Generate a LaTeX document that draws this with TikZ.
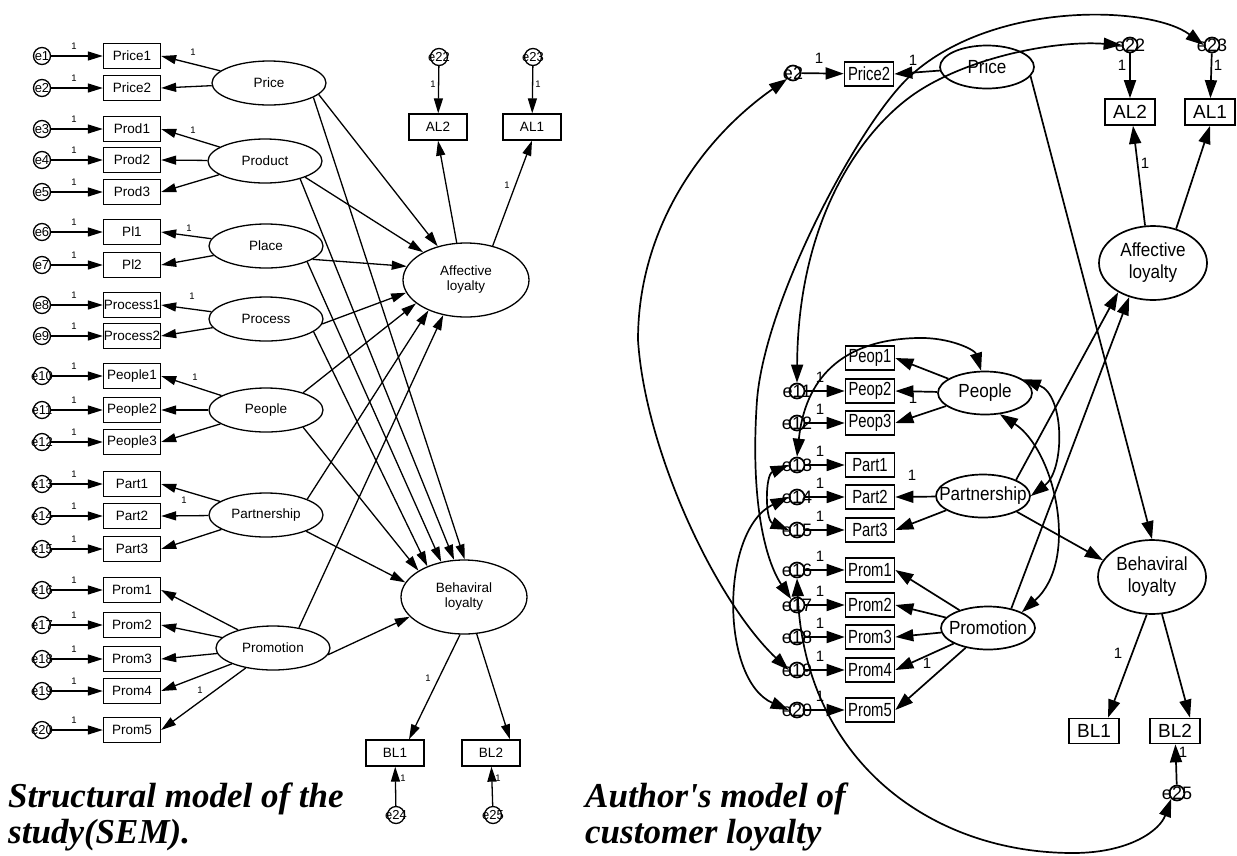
\documentclass[tikz,border=0pt]{standalone}
\usepackage{fontspec}
\setmainfont{Liberation Sans}
\newfontfamily\capfont{Liberation Serif}
\newfontfamily\condA[FakeStretch=0.78]{Liberation Sans}
\newfontfamily\condB[FakeStretch=0.9]{Liberation Sans}
\usetikzlibrary{shapes.geometric,arrows.meta}
\tikzset{
  % left diagram
  lbox/.style={draw,line width=1.3pt,rectangle,minimum width=57pt,minimum height=25pt,inner sep=0pt,font=\fontsize{13.5}{13.5}\selectfont},
  llat/.style={draw,line width=1.3pt,ellipse,minimum width=114pt,minimum height=44pt,inner sep=0pt,font=\fontsize{13.5}{15}\selectfont},
  lfac/.style={llat,minimum width=126pt,minimum height=74pt},
  lerr/.style={draw,line width=1.3pt,circle,minimum size=17pt,inner sep=0pt,font=\fontsize{13}{13}\selectfont},
  lone/.style={inner sep=0pt,font=\fontsize{9.5}{10}\selectfont},
  larr/.style={line width=1.3pt,-{Triangle[length=15pt,width=9pt]}},
  % right diagram
  rbox/.style={draw,line width=1.7pt,rectangle,minimum width=49pt,minimum height=24pt,inner sep=0pt,font=\condA\fontsize{19}{19}\selectfont},
  rbbox/.style={rbox,minimum width=50pt,minimum height=26pt,font=\fontsize{19}{19}\selectfont},
  rlat/.style={draw,line width=1.7pt,ellipse,minimum width=94pt,minimum height=43pt,inner sep=0pt,font=\condB\fontsize{19}{19}\selectfont},
  rfac/.style={rlat,minimum width=108pt,minimum height=74pt,font=\condB\fontsize{19}{22}\selectfont},
  rerr/.style={draw,line width=1.7pt,circle,minimum size=15pt,inner sep=0pt,font=\fontsize{18}{18}\selectfont},
  rone/.style={inner sep=0pt,font=\fontsize{15}{15}\selectfont},
  rarr/.style={line width=1.7pt,-{Triangle[length=18pt,width=12pt]}},
  rcov/.style={line width=1.7pt,{Triangle[length=18pt,width=12pt]}-{Triangle[length=18pt,width=12pt]}},
  capt/.style={inner sep=0pt,anchor=base west,font=\capfont\bfseries\itshape\fontsize{35}{35}\selectfont},
}
\begin{document}
\begin{tikzpicture}[x=1pt,y=-1pt]
\fill[white] (0,0) rectangle (1237,855);
\useasboundingbox (0,0) rectangle (1237,855);

% ================= structural model (left) =================
\foreach \t/\y [count=\i] in {Price1/56,Price2/88,Prod1/129,Prod2/160,Prod3/192,Pl1/232,Pl2/265,Process1/305,Process2/336,People1/376,People2/410,People3/442,Part1/484,Part2/516,Part3/549,Prom1/590,Prom2/625,Prom3/659,Prom4/691,Prom5/730}{
  \node[lbox] (L\t) at (132,\y) {\t};
  \node[lerr] (Le\i) at (42,\y) {\makebox[0pt]{e\i}};
  \node[lone] (Lk\i) at (74,\y-10) {1};
  \draw[larr] (Le\i) -- (L\t);
}

\node[llat] (LPrice) at (269,83) {\makebox[0pt]{Price}};
\node[llat] (LProduct) at (265,161) {\makebox[0pt]{Product}};
\node[llat] (LPlace) at (266,246) {\makebox[0pt]{Place}};
\node[llat] (LProcess) at (266,319) {\makebox[0pt]{Process}};
\node[llat] (LPeople) at (266,410) {\makebox[0pt]{People}};
\node[llat] (LPartnership) at (266,515) {\makebox[0pt]{Partnership}};
\node[llat] (LPromotion) at (273,648) {\makebox[0pt]{Promotion}};

\foreach \s/\t in {Price/Price1,Price/Price2,Product/Prod1,Product/Prod2,Product/Prod3,Place/Pl1,Place/Pl2,Process/Process1,Process/Process2,People/People1,People/People2,People/People3,Partnership/Part1,Partnership/Part2,Partnership/Part3,Promotion/Prom1,Promotion/Prom2,Promotion/Prom3,Promotion/Prom4,Promotion/Prom5}
  \draw[larr] (L\s) -- (L\t.east);

\node[lone] (LkPrice) at (193,52) {1};
\node[lone] (LkProduct) at (193,130) {1};
\node[lone] (LkPlace) at (189,228) {1};
\node[lone] (LkProcess) at (192,296) {1};
\node[lone] (LkPeople) at (195,377) {1};
\node[lone] (LkPartnership) at (184,500) {1};
\node[lone] (LkPromotion) at (200,690) {1};

\node[lfac] (LAL) at (466,280) {\makebox[0pt]{\begin{tabular}{@{}c@{}}Affective\\loyalty\end{tabular}}};
\node[lfac] (LBL) at (464,597) {\makebox[0pt]{\begin{tabular}{@{}c@{}}Behaviral\\loyalty\end{tabular}}};

\foreach \s/\a/\b/\c/\d in {Price/-13/130/-18/89,Product/-22/147/-27/105,Place/-16/167/-21/123,Process/-5/192/-15/140,People/25/205/-25/150,Partnership/21/219/-22/166,Promotion/38/237/-7/200}{
  \draw[larr] (L\s.\a) -- (LAL.\b);
  \draw[larr] (L\s.\c) -- (LBL.\d);
}

\node[lbox,minimum width=58pt,minimum height=26pt] (LAL2) at (438,127) {AL2};
\node[lbox,minimum width=58pt,minimum height=26pt] (LAL1) at (532,127) {AL1};
\node[lbox,minimum width=58pt,minimum height=26pt] (LBL1) at (395,753) {BL1};
\node[lbox,minimum width=58pt,minimum height=26pt] (LBL2) at (491,753) {BL2};
\node[lerr] (Le22) at (439,57) {\makebox[0pt]{e22}};
\node[lerr] (Le23) at (533,57) {\makebox[0pt]{e23}};
\node[lerr] (Le24) at (396,815) {\makebox[0pt]{e24}};
\node[lerr] (Le25) at (493,815) {\makebox[0pt]{e25}};
\draw[larr] (Le22) -- (LAL2);
\draw[larr] (Le23) -- (LAL1);
\draw[larr] (Le24) -- (LBL1);
\draw[larr] (Le25) -- (LBL2);
\draw[larr] (LAL.104) -- (LAL2.south);
\draw[larr] (LAL.52) -- (LAL1.south);
\draw[larr] (LBL.264) -- ([xshift=14pt]LBL1.north);
\draw[larr] (LBL.289) -- ([xshift=19pt]LBL2.north);
\node[lone] (Lk22) at (433,84) {1};
\node[lone] (Lk23) at (538,84) {1};
\node[lone] (LkAL) at (507,185) {1};
\node[lone] (LkBL) at (428,678) {1};
\node[lone] (Lk24) at (403,778) {1};
\node[lone] (Lk25) at (498,778) {1};

\node[capt] (capL1) at (8,807) {Structural model of the};
\node[capt] (capL2) at (8,843) {study(SEM).};

% ================= customer loyalty model (right) =================
\node[rbox] (rPrice2) at (869,74) {Price2};
\node[rerr] (re2) at (793,73) {\makebox[0pt]{e2}};
\node[rlat] (rPrice) at (987,67) {\makebox[0pt]{Price}};
\draw[rarr] (re2) -- (rPrice2);
\draw[rarr] (rPrice) -- (rPrice2.east);
\node[rone] (rk2) at (819,58) {1};
\node[rone] (rkPrice) at (913,60) {1};

\node[rbox] (rPeop1) at (870,358) {Peop1};
\foreach \t/\y/\i in {Peop2/391/11,Peop3/423/12,Part1/465/13,Part2/497/14,Part3/530/15,Prom1/570/16,Prom2/605/17,Prom3/637/18,Prom4/670/19,Prom5/710/20}{
  \node[rbox] (r\t) at (870,\y) {\t};
  \node[rerr] (re\i) at (797,\y) {\makebox[0pt]{e\i}};
  \node[rone] (rk\i) at (820,\y-14) {1};
  \draw[rarr] (re\i) -- (r\t);
}

\node[rlat] (rPeople) at (985,393) {\makebox[0pt]{People}};
\node[rlat] (rPart) at (983,496) {\makebox[0pt]{Partnership}};
\node[rlat] (rProm) at (988,628) {\makebox[0pt]{Promotion}};

\foreach \s/\t in {People/Peop1,People/Peop2,People/Peop3,Part/Part2,Part/Part3,Prom/Prom1,Prom/Prom2,Prom/Prom3,Prom/Prom4,Prom/Prom5}
  \draw[rarr] (r\s) -- (r\t.east);
\node[rone] (rkPeople) at (913,398) {1};
\node[rone] (rkPart) at (912,475) {1};
\node[rone] (rkProm) at (927,663) {1};

\node[rfac] (rAL) at (1153,263) {\makebox[0pt]{\begin{tabular}{@{}c@{}}Affective\\loyalty\end{tabular}}};
\node[rfac] (rBL) at (1152,577) {\makebox[0pt]{\begin{tabular}{@{}c@{}}Behaviral\\loyalty\end{tabular}}};
\node[rbbox] (rAL2) at (1130,112) {AL2};
\node[rbbox] (rAL1) at (1210,112) {AL1};
\node[rbbox,minimum height=25pt] (rBL1) at (1094,731) {BL1};
\node[rbbox,minimum height=25pt] (rBL2) at (1175,731) {BL2};
\node[rerr] (re22) at (1130,45) {\makebox[0pt]{e22}};
\node[rerr] (re23) at (1212,45) {\makebox[0pt]{e23}};
\node[rerr] (re25) at (1177,793) {\makebox[0pt]{e25}};

\draw[rarr] (rPrice.-12) -- (rBL.90);
\draw[rarr] (rPart.26) -- (rAL.220);
\draw[rarr] (rProm.40) -- (rAL.235);
\draw[rarr] (rPart.-25) -- (rBL.161);
\draw[rarr] (rAL.102) -- ([xshift=3pt]rAL2.south);
\draw[rarr] (rAL.56) -- (rAL1.south);
\draw[rarr] (rBL.262) -- ([xshift=14pt]rBL1.north);
\draw[rarr] (rBL.285) -- ([xshift=15pt]rBL2.north);
\draw[rarr] (re22) -- (rAL2);
\draw[rarr] (re23) -- (rAL1);
\draw[rarr] (re25) -- (rBL2);
\node[rone] (rkAL) at (1145,163) {1};
\node[rone] (rk22) at (1122,65) {1};
\node[rone] (rk23) at (1218,65) {1};
\node[rone] (rkBL) at (1118,653) {1};
\node[rone] (rk25) at (1183,752) {1};

% covariances
\draw[rcov] (re2.south west) .. controls (700,140) and (638,230) .. (638,340)
            .. controls (645,450) and (715,600) .. (re19.west);
\draw[rcov] (re23.west) .. controls (1150,5) and (990,0) .. (908,78)
            .. controls (858,126) and (765,300) .. (757,400)
            .. controls (750,500) and (765,560) .. (re17.north west);
\draw[rcov] (re22.west) .. controls (1050,40) and (960,60) .. (910,97)
            .. controls (860,134) and (798,220) .. (re11.north);
\draw[rcov] (re13.north) .. controls (805,380) and (840,340) .. (917,338)
            .. controls (950,337) and (975,350) .. (rPeople.100);
\draw[rcov] (rPeople.20) .. controls (1065,395) and (1065,470) .. (rPart.east);
\draw[rcov] (rPeople.-55) .. controls (1055,450) and (1080,560) .. (rProm.25);
\draw[rcov] (re13.west) .. controls (765,475) and (765,520) .. (re15.west);
\draw[rcov] (re14.west) .. controls (720,530) and (720,680) .. (re20.west);
\draw[rcov] (re16.south) .. controls (805,760) and (930,853) .. (1073,853)
            .. controls (1130,853) and (1160,830) .. (re25.south west);

\node[capt] (capR1) at (585,807) {Author's model of};
\node[capt] (capR2) at (585,843) {customer loyalty};
\end{tikzpicture}
\end{document}
